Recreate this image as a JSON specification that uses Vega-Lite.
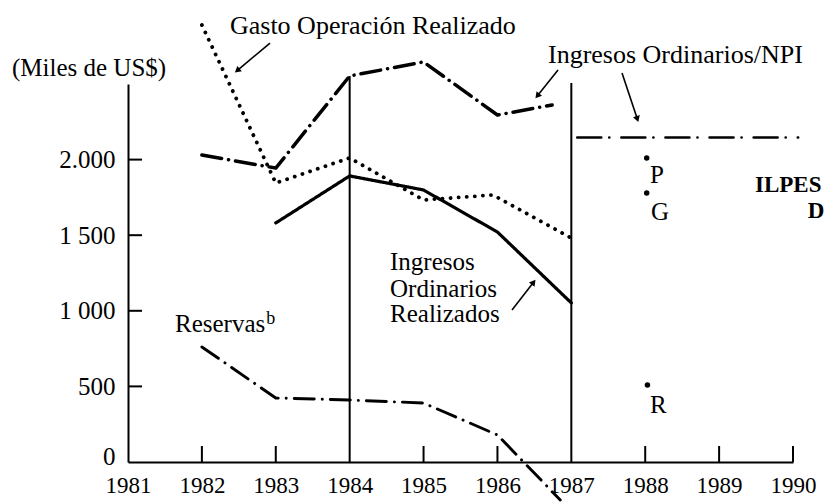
{
  "$schema": "https://vega.github.io/schema/vega-lite/v6.json",
  "width": 665,
  "height": 378,
  "autosize": {"type": "none"},
  "padding": {"left": 128, "top": 84, "right": 32, "bottom": 40},
  "background": "white",
  "config": {
    "view": {"stroke": null},
    "axis": {
      "domainColor": "black", "domainWidth": 2, "ticks": false,
      "labelFont": "Liberation Serif", "labelColor": "black", "labelFlush": false,
      "labelOverlap": false, "grid": false, "title": null
    }
  },
  "datasets": {
    "series": [
      {"serie": "Gasto", "year": 1982, "value": 2890},
      {"serie": "Gasto", "year": 1983, "value": 1845},
      {"serie": "Gasto", "year": 1984, "value": 2011},
      {"serie": "Gasto", "year": 1985, "value": 1733},
      {"serie": "Gasto", "year": 1985.94, "value": 1766},
      {"serie": "Gasto", "year": 1987, "value": 1481},
      {"serie": "NPI", "year": 1982, "value": 2030},
      {"serie": "NPI", "year": 1983, "value": 1944},
      {"serie": "NPI", "year": 1984, "value": 2553},
      {"serie": "NPI", "year": 1985, "value": 2646},
      {"serie": "NPI", "year": 1986, "value": 2295},
      {"serie": "NPI", "year": 1986.74, "value": 2361},
      {"serie": "Realizados", "year": 1983, "value": 1581},
      {"serie": "Realizados", "year": 1984, "value": 1892},
      {"serie": "Realizados", "year": 1985, "value": 1799},
      {"serie": "Realizados", "year": 1986, "value": 1521},
      {"serie": "Realizados", "year": 1987, "value": 1052},
      {"serie": "Reservas", "year": 1982, "value": 761},
      {"serie": "Reservas", "year": 1983, "value": 423},
      {"serie": "Reservas", "year": 1984, "value": 410},
      {"serie": "Reservas", "year": 1985, "value": 390},
      {"serie": "Reservas", "year": 1986, "value": 179},
      {"serie": "Reservas", "year": 1986.85, "value": -251},
      {"serie": "Proyeccion", "year": 1987.08, "value": 2146},
      {"serie": "Proyeccion", "year": 1990.07, "value": 2146}
    ],
    "vlines": [
      {"year": 1984, "base": 0, "top": 2553},
      {"year": 1987, "base": 0, "top": 2507}
    ],
    "xticks": [
      {"year": 1982}, {"year": 1983}, {"year": 1985}, {"year": 1986},
      {"year": 1988}, {"year": 1989}, {"year": 1990}
    ],
    "yticks": [
      {"value": 500}, {"value": 1000}, {"value": 1500}, {"value": 2000}
    ],
    "points": [
      {"name": "P", "year": 1988.02, "value": 2011},
      {"name": "G", "year": 1988.02, "value": 1779},
      {"name": "R", "year": 1988.03, "value": 509}
    ],
    "arrows": [
      {"id": "a1", "x1": 1982.922, "y1": 2771, "x2": 1982.489, "y2": 2593},
      {"id": "a2", "x1": 1986.82, "y1": 2593, "x2": 1986.549, "y2": 2427},
      {"id": "a3", "x1": 1987.686, "y1": 2573, "x2": 1987.889, "y2": 2275},
      {"id": "a4", "x1": 1986.197, "y1": 1005, "x2": 1986.481, "y2": 1184}
    ],
    "texts": [
      {"kind": "title", "text": "Gasto Operación Realizado", "year": 1982.38, "value": 2831},
      {"kind": "main", "text": "(Miles de US$)", "year": 1979.43, "value": 2553},
      {"kind": "title", "text": "Ingresos Ordinarios/NPI", "year": 1986.684, "value": 2639},
      {"kind": "main", "text": "Ingresos", "year": 1984.546, "value": 1270},
      {"kind": "main", "text": "Ordinarios", "year": 1984.546, "value": 1091},
      {"kind": "main", "text": "Realizados", "year": 1984.546, "value": 926},
      {"kind": "main", "text": "Reservas", "year": 1981.636, "value": 860},
      {"kind": "sup", "text": "b", "year": 1982.87, "value": 913},
      {"kind": "main", "text": "P", "year": 1988.065, "value": 1845},
      {"kind": "main", "text": "G", "year": 1988.078, "value": 1601},
      {"kind": "main", "text": "R", "year": 1988.065, "value": 324},
      {"kind": "bold", "text": "ILPES", "year": 1989.486, "value": 1786},
      {"kind": "bold", "text": "D", "year": 1990.2, "value": 1614}
    ]
  },
  "layer": [
    {
      "data": {"name": "vlines"},
      "mark": {"type": "rule", "color": "black", "strokeWidth": 2},
      "encoding": {
        "x": {"field": "year", "type": "quantitative",
              "scale": {"domain": [1981, 1990], "nice": false, "zero": false},
              "axis": {"values": [1981, 1982, 1983, 1984, 1985, 1986, 1987, 1988, 1989, 1990],
                       "format": "d", "labelPadding": 12, "labelBaseline": "top", "labelFontSize": 23}},
        "y": {"field": "base", "type": "quantitative",
              "scale": {"domain": [0, 2500], "nice": false},
              "axis": {"values": [0, 500, 1000, 1500, 2000], "labelPadding": 13, "labelFontSize": 25,
                       "labelOffset": {"condition": {"test": "datum.value == 0", "value": -6}, "value": 0},
                       "labelExpr": "datum.value == 2000 ? '2.000' : datum.value == 1500 ? '1 500' : datum.value == 1000 ? '1 000' : datum.label"}},
        "y2": {"field": "top"}
      }
    },
    {
      "data": {"name": "xticks"},
      "mark": {"type": "rule", "color": "black", "strokeWidth": 2},
      "encoding": {
        "x": {"field": "year", "type": "quantitative"},
        "y": {"datum": 0, "type": "quantitative"},
        "y2": {"datum": 106}
      }
    },
    {
      "data": {"name": "yticks"},
      "mark": {"type": "rule", "color": "black", "strokeWidth": 2},
      "encoding": {
        "x": {"datum": 1981, "type": "quantitative"},
        "x2": {"datum": 1981.19},
        "y": {"field": "value", "type": "quantitative"}
      }
    },
    {
      "data": {"name": "series"},
      "mark": {"type": "line", "color": "black", "strokeCap": "round", "strokeJoin": "round"},
      "encoding": {
        "x": {"field": "year", "type": "quantitative"},
        "y": {"field": "value", "type": "quantitative"},
        "strokeDash": {"field": "serie", "type": "nominal", "legend": null,
          "scale": {"domain": ["Gasto", "NPI", "Realizados", "Reservas", "Proyeccion"],
                    "range": [[0.1, 8], [20, 7, 0.1, 7], [1, 0], [20, 8, 0.1, 8], [24, 8, 0.1, 12]]}},
        "strokeWidth": {"field": "serie", "type": "nominal", "legend": null,
          "scale": {"domain": ["Gasto", "NPI", "Realizados", "Reservas", "Proyeccion"],
                    "range": [3.8, 2.6, 2.4, 2.8, 2.6]}}
      }
    },
    {
      "data": {"name": "points"},
      "mark": {"type": "point", "filled": true, "color": "black", "size": 30, "opacity": 1},
      "encoding": {
        "x": {"field": "year", "type": "quantitative"},
        "y": {"field": "value", "type": "quantitative"}
      }
    },
    {
      "data": {"name": "arrows"},
      "mark": {"type": "rule", "color": "black", "strokeWidth": 1.6},
      "encoding": {
        "x": {"field": "x1", "type": "quantitative"},
        "y": {"field": "y1", "type": "quantitative"},
        "x2": {"field": "x2"},
        "y2": {"field": "y2"}
      }
    },
    {
      "data": {"name": "arrows"},
      "transform": [{"filter": "datum.id == 'a1'"}],
      "mark": {"type": "point", "shape": "triangle", "filled": true, "color": "black", "opacity": 1, "size": 50, "angle": 230},
      "encoding": {
        "x": {"field": "x2", "type": "quantitative"},
        "y": {"field": "y2", "type": "quantitative"}
      }
    },
    {
      "data": {"name": "arrows"},
      "transform": [{"filter": "datum.id == 'a2'"}],
      "mark": {"type": "point", "shape": "triangle", "filled": true, "color": "black", "opacity": 1, "size": 50, "angle": 219},
      "encoding": {
        "x": {"field": "x2", "type": "quantitative"},
        "y": {"field": "y2", "type": "quantitative"}
      }
    },
    {
      "data": {"name": "arrows"},
      "transform": [{"filter": "datum.id == 'a3'"}],
      "mark": {"type": "point", "shape": "triangle", "filled": true, "color": "black", "opacity": 1, "size": 50, "angle": 162},
      "encoding": {
        "x": {"field": "x2", "type": "quantitative"},
        "y": {"field": "y2", "type": "quantitative"}
      }
    },
    {
      "data": {"name": "arrows"},
      "transform": [{"filter": "datum.id == 'a4'"}],
      "mark": {"type": "point", "shape": "triangle", "filled": true, "color": "black", "opacity": 1, "size": 50, "angle": 38},
      "encoding": {
        "x": {"field": "x2", "type": "quantitative"},
        "y": {"field": "y2", "type": "quantitative"}
      }
    },
    {
      "data": {"name": "texts"},
      "transform": [{"filter": "datum.kind == 'main'"}],
      "mark": {"type": "text", "font": "Liberation Serif", "fontSize": 25, "align": "left", "baseline": "alphabetic", "color": "black"},
      "encoding": {
        "x": {"field": "year", "type": "quantitative"},
        "y": {"field": "value", "type": "quantitative"},
        "text": {"field": "text"}
      }
    },
    {
      "data": {"name": "texts"},
      "transform": [{"filter": "datum.kind == 'title'"}],
      "mark": {"type": "text", "font": "Liberation Serif", "fontSize": 26, "align": "left", "baseline": "alphabetic", "color": "black"},
      "encoding": {
        "x": {"field": "year", "type": "quantitative"},
        "y": {"field": "value", "type": "quantitative"},
        "text": {"field": "text"}
      }
    },
    {
      "data": {"name": "texts"},
      "transform": [{"filter": "datum.kind == 'sup'"}],
      "mark": {"type": "text", "font": "Liberation Serif", "fontSize": 18, "align": "left", "baseline": "alphabetic", "color": "black"},
      "encoding": {
        "x": {"field": "year", "type": "quantitative"},
        "y": {"field": "value", "type": "quantitative"},
        "text": {"field": "text"}
      }
    },
    {
      "data": {"name": "texts"},
      "transform": [{"filter": "datum.kind == 'bold'"}],
      "mark": {"type": "text", "font": "Liberation Serif", "fontSize": 23, "fontWeight": "bold", "align": "left", "baseline": "alphabetic", "color": "black"},
      "encoding": {
        "x": {"field": "year", "type": "quantitative"},
        "y": {"field": "value", "type": "quantitative"},
        "text": {"field": "text"}
      }
    }
  ]
}
